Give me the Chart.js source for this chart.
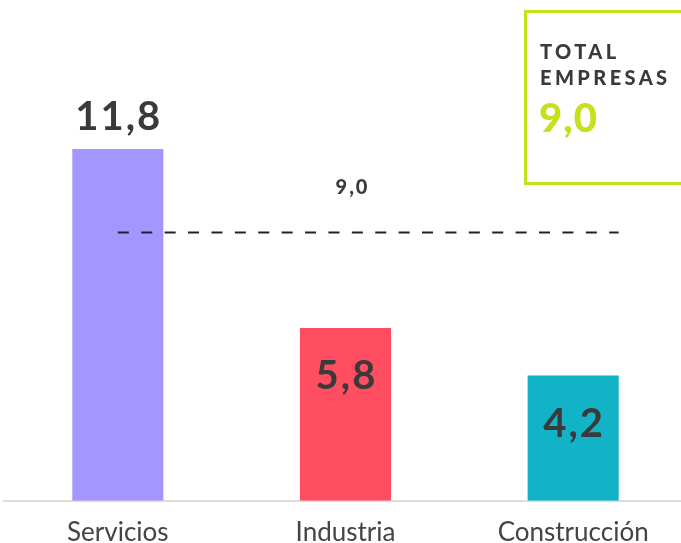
<!DOCTYPE html>
<html>
<head>
<meta charset="utf-8">
<script src="https://cdn.jsdelivr.net/npm/chart.js@4.4.0/dist/chart.umd.min.js"></script>
<style>
  html, body { margin: 0; padding: 0; background: #fff; overflow: hidden; }
  .wrap { position: relative; width: 687px; height: 543px; }
  .total {
    position: absolute; left: 524px; top: 10px; width: 180px; height: 175px;
    border: 3px solid #c6e01c; box-sizing: border-box;
    font-family: Lato, sans-serif; font-weight: 900; color: #3a3a3a;
  }
  .total .t { position: absolute; left: 13px; top: 25px; font-size: 20px; line-height: 26px; letter-spacing: 3.4px; }
  .total .v { position: absolute; left: 12px; top: 80px; font-size: 40px; color: #c6e01c; letter-spacing: 1px; }
</style>
</head>
<body>
<div class="wrap">
  <canvas id="myChart" width="687" height="543"></canvas>
  <div class="total"><div class="t">TOTAL<br>EMPRESAS</div><div class="v" id="totalValue"></div></div>
</div>
<script>
// data
var sectores = ["Servicios", "Industria", "Construcción"];
var valores = [11.8, 5.8, 4.2];
var colores = ["#a396ff", "#ff4d61", "#12b3c6"];
var totalEmpresas = 9.0;

function fmt(v) {
  return v.toFixed(1).replace(".", ",");
}

document.getElementById("totalValue").textContent = fmt(totalEmpresas);

// labels and average line
var extras = {
  id: "extras",
  afterDatasetsDraw: function (chart) {
    var ctx = chart.ctx;
    var meta = chart.getDatasetMeta(0);
    var y = chart.scales.y;
    ctx.save();
    ctx.fillStyle = "#3a3a3a";
    ctx.textAlign = "center";
    ctx.textBaseline = "middle";
    ctx.font = "bold 40px Lato";
    ctx.letterSpacing = "2px";
    meta.data.forEach(function (bar, i) {
      var ty = i === 0 ? bar.y - 32 : bar.y + 48;
      ctx.fillText(fmt(valores[i]), bar.x + 1, ty);
    });

    // dashed total line
    var ly = y.getPixelForValue(totalEmpresas);
    var x0 = meta.data[0].x;
    var x1 = meta.data[2].x + meta.data[2].width / 2;
    ctx.strokeStyle = "#222";
    ctx.lineWidth = 2;
    ctx.setLineDash([11, 12.4]);
    ctx.beginPath();
    ctx.moveTo(x0, ly);
    ctx.lineTo(x1, ly);
    ctx.stroke();

    ctx.font = "900 20px Lato";
    ctx.letterSpacing = "2px";
    ctx.fillText(fmt(totalEmpresas), (meta.data[1].x + 7), ly - 45);
    ctx.restore();
  }
};

var ctx = document.getElementById("myChart").getContext("2d");

var myChart = new Chart(ctx, {
  type: "bar",
  data: {
    labels: sectores,
    datasets: [
      {
        data: valores,
        backgroundColor: colores,
        barPercentage: 0.4,
        categoryPercentage: 1,
      },
    ],
  },
  options: {
    responsive: false,
    animation: false,
    layout: { padding: { left: 4, right: 0, top: 0, bottom: -21 } },
    plugins: { legend: { display: false }, tooltip: { enabled: false } },
    scales: {
      y: { display: false, min: 0, max: 16.8 },
      x: {
        grid: { display: false, drawTicks: false },
        border: { display: true, color: "#dddddd", width: 2 },
        ticks: {
          color: "#444",
          padding: 16,
          font: { family: "Lato", size: 26 },
        },
      },
    },
  },
  plugins: [extras],
});
</script>
</body>
</html>
